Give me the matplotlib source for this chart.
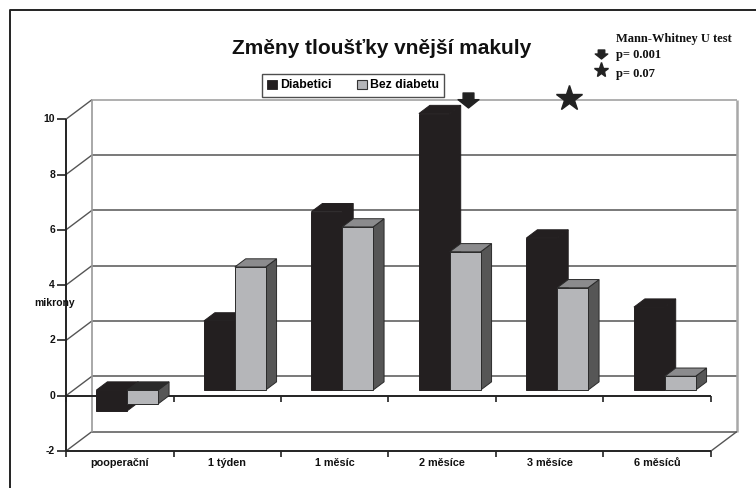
import matplotlib.pyplot as plt
from matplotlib.patches import Polygon, Patch
from matplotlib.lines import Line2D
from matplotlib.path import Path

categories = ["pooperační", "1 týden", "1 měsíc", "2 měsíce", "3 měsíce", "6 měsíců"]
diabetici = [-0.75, 2.5, 6.45, 10.0, 5.5, 3.0]
bez_diabetu = [-0.5, 4.45, 5.9, 5.0, 3.7, 0.5]
yticks = [-2, 0, 2, 4, 6, 8, 10]
series_names = ["Diabetici", "Bez diabetu"]

W, H = 756, 488
fig = plt.figure(figsize=(W / 100, H / 100), dpi=100)
ax = fig.add_axes([0, 0, 1, 1])
ax.axis("off")

# pixel scale of the front plane
PXC = 107.5     # px per category
PXV = 27.65     # px per unit
X0, Y0 = 66, 395.7
ax.set_xlim(-X0 / PXC, (W - X0) / PXC)
ax.set_ylim((Y0 - H) / PXV, Y0 / PXV)

DX = 26 / PXC    # depth offset
DY = 19.5 / PXV
n = len(categories)
vmin, vmax = yticks[0], yticks[-1]


def P(x, v, z):
    return (x + z * DX, v + z * DY)


def seg(p1, p2, **kw):
    ax.plot([p1[0], p2[0]], [p1[1], p2[1]], solid_capstyle="butt", **kw)


def fx(px):
    return px / W


def fy(py):
    return 1 - py / H


sans = "Liberation Sans"
serif = "Liberation Serif"
grid_c = "#555555"
edge_c = "#a8a8a8"
dark = "#222222"

# back wall and side wall
for v in yticks:
    if v == vmax:
        c = "#9a9a9a"
    else:
        c = grid_c
    seg(P(0, v, 1), P(n, v, 1), color=c, lw=1.1, zorder=1)
    seg(P(0, v, 0), P(0, v, 1), color=grid_c, lw=1.0, zorder=1)
seg(P(0, vmin, 1), P(0, vmax, 1), color="#9a9a9a", lw=1.2, zorder=1)
seg(P(n, vmin, 1), P(n, vmax, 1), color=edge_c, lw=1.8, zorder=1)
seg(P(n, vmin, 0), P(n, vmin, 1), color=grid_c, lw=1.0, zorder=1)

# front axes
seg(P(0, vmin, 0), P(0, vmax, 0), color=dark, lw=1.4, zorder=2)
seg(P(0, vmin, 0), P(n, vmin, 0), color=dark, lw=1.4, zorder=2)
seg(P(0, 0, 0), P(n, 0, 0), color=dark, lw=1.4, zorder=2)
for i in range(n + 1):
    seg((i, vmin), (i, vmin - 0.2), color=dark, lw=1.2, zorder=2)
    seg((i, 0), (i, -0.22), color=dark, lw=1.2, zorder=2)
for v in yticks:
    seg((-9 / PXC, v), (0, v), color=dark, lw=1.2, zorder=2)
    ax.text(-11 / PXC, v, str(v), ha="right", va="center", fontsize=7.5,
            fontweight="bold", family=sans, color="#111111")

for i, c in enumerate(categories):
    ax.text(i + 0.5, vmin - 0.45, c, ha="center", va="center", fontsize=7.8,
            fontweight="bold", family=sans, color="#111111")

ax.text(-11 / PXC, (Y0 - 303) / PXV, "mikrony", ha="center", va="center",
        fontsize=7.5, fontweight="bold", family=sans, color="#111111", zorder=6)

# 3d bars
hw = 0.287
z0, z1 = 0.29, 0.71
styles = [
    dict(front="#231f20", top="#231f20", side="#231f20", negtop="#231f20", ec="#231f20"),
    dict(front="#b5b6b9", top="#8b8b8d", side="#565656", negtop="#2a2a2a", ec="#2a2a2a"),
]


def bar3d(xl, xr, v, st, zo):
    lo, hi = min(0, v), max(0, v)
    kw = dict(ec=st["ec"], lw=0.7, joinstyle="miter", zorder=zo)
    front = [P(xl, lo, z0), P(xr, lo, z0), P(xr, hi, z0), P(xl, hi, z0)]
    top = [P(xl, hi, z0), P(xr, hi, z0), P(xr, hi, z1), P(xl, hi, z1)]
    side = [P(xr, lo, z0), P(xr, lo, z1), P(xr, hi, z1), P(xr, hi, z0)]
    ax.add_patch(Polygon(side, closed=True, fc=st["side"], **kw))
    ax.add_patch(Polygon(top, closed=True,
                         fc=st["top"] if v >= 0 else st["negtop"], **kw))
    ax.add_patch(Polygon(front, closed=True, fc=st["front"], **kw))


for i in range(n):
    c = i + 0.5
    bar3d(c - hw, c, diabetici[i], styles[0], 3 + 2 * i)
    bar3d(c, c + hw, bez_diabetu[i], styles[1], 4 + 2 * i)

# significance markers
arrow = Path([(-0.26, 0.36), (0.26, 0.36), (0.26, 0.04), (0.5, 0.04),
              (0.0, -0.36), (-0.5, 0.04), (-0.26, 0.04), (-0.26, 0.36)], closed=True)
ax.plot([3 + 0.735], [10.69], marker=arrow, ms=15, color="#222222", zorder=20,
        clip_on=False)
ax.plot([4 + 0.68], [10.75], marker="*", ms=19, color="#222222", mec="#222222",
        zorder=20, clip_on=False)

# chart border
fig.add_artist(Line2D([fx(10), fx(10), fx(W + 5)], [fy(H + 5), fy(10), fy(10)],
                      color=dark, lw=1.4, transform=fig.transFigure))

# title
fig.text(fx(382), fy(48), "Změny tloušťky vnější makuly", ha="center", va="center",
         fontsize=15, fontweight="bold", family=sans, color="#111111")

# legend
handles = [Patch(fc="#231f20", ec="#231f20", lw=0.6),
           Patch(fc="#b5b6b9", ec="#333333", lw=0.8)]
leg = fig.legend(handles, series_names, loc="center",
                 bbox_to_anchor=(fx(353), fy(85.5)), ncol=2, frameon=True,
                 fancybox=False, edgecolor="#222222", handlelength=0.8,
                 handleheight=0.75, handletextpad=0.25, columnspacing=2.1,
                 borderpad=0.45, prop=dict(family=sans, weight="bold", size=8.8))
leg.get_frame().set_linewidth(1.0)

# test key
fig.text(fx(616), fy(39), "Mann-Whitney U test", ha="left", va="center",
         fontsize=9, fontweight="bold", family=serif, color="#111111")
fig.text(fx(616), fy(55), "p= 0.001", ha="left", va="center",
         fontsize=9, fontweight="bold", family=serif, color="#111111")
fig.text(fx(616), fy(74), "p= 0.07", ha="left", va="center",
         fontsize=9, fontweight="bold", family=serif, color="#111111")
fig.add_artist(Line2D([fx(601)], [fy(53.5)], marker=arrow, ms=9, color="#222222",
                      transform=fig.transFigure))
fig.add_artist(Line2D([fx(601)], [fy(70)], marker="*", ms=11, color="#222222",
                      transform=fig.transFigure))

fig.savefig("out.png", dpi=100)
